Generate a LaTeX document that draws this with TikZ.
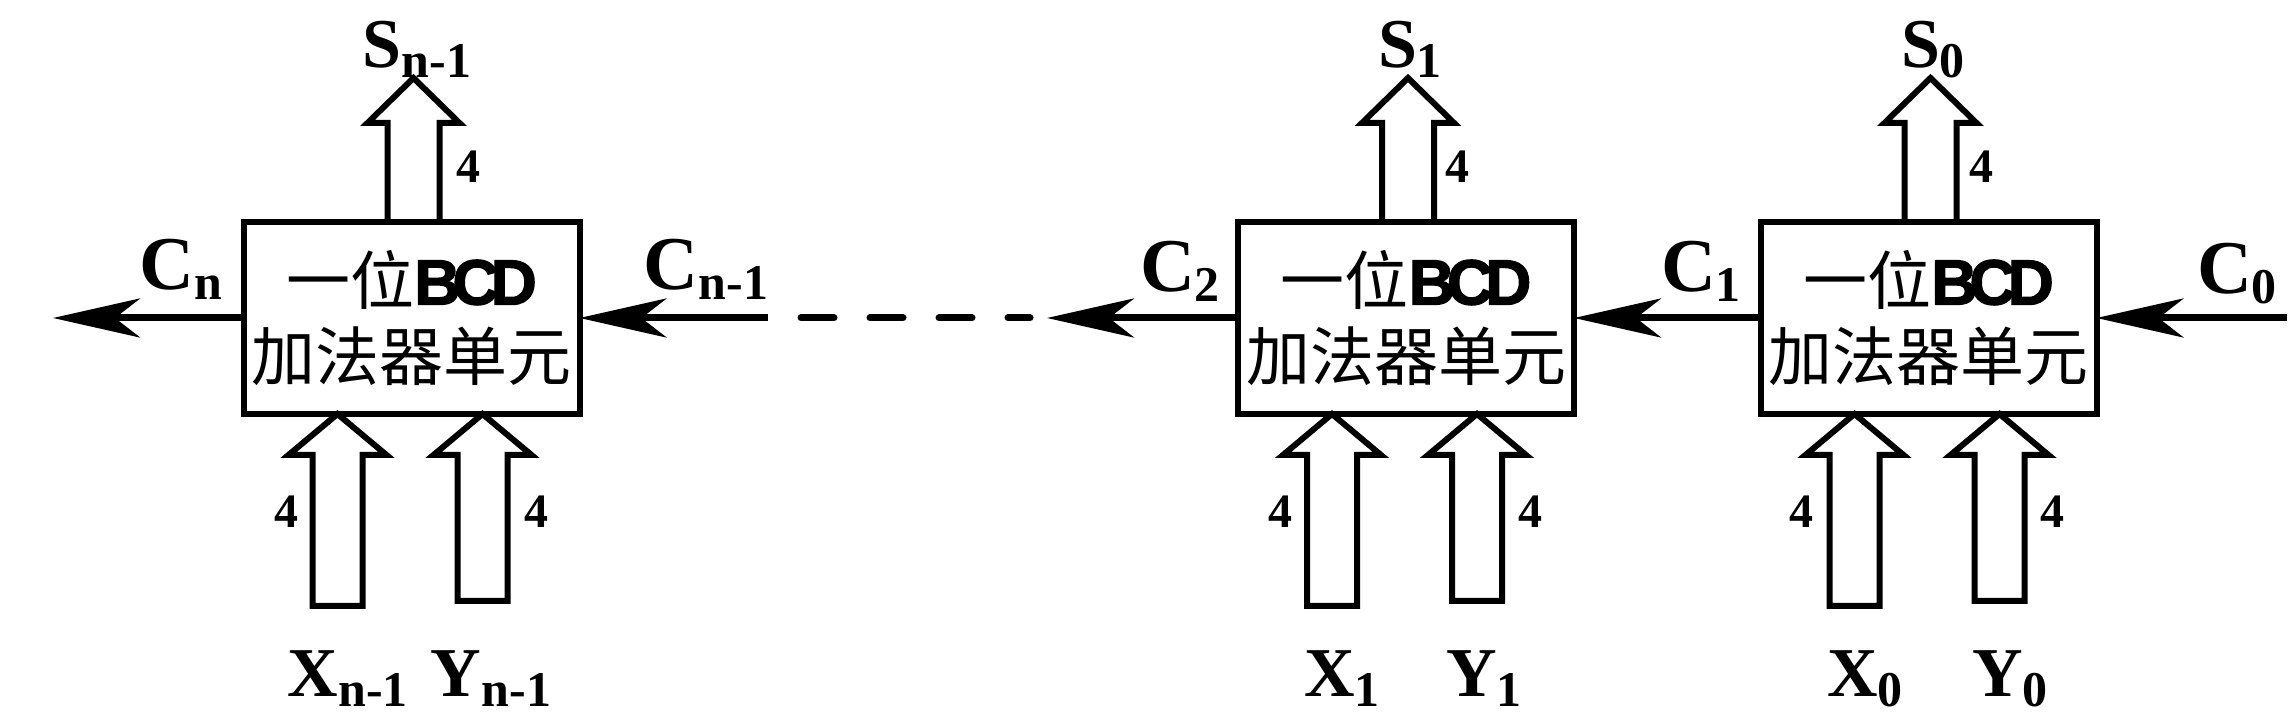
\documentclass[tikz,border=0pt]{standalone}
\usepackage{fontspec}
\setmainfont{Liberation Serif}
\newfontfamily\cjk{Noto Sans CJK SC}
\newfontfamily\bcdfont[FakeBold=2]{Liberation Sans}
\usetikzlibrary{arrows.meta,calc}
\newcommand{\lab}[2]{{\bfseries\fontsize{17.5pt}{20pt}\selectfont #1\raisebox{-2.5pt}{\fontsize{12.5pt}{14pt}\selectfont #2}}}
\newcommand{\clab}[2]{{\bfseries\fontsize{19pt}{22pt}\selectfont C\raisebox{-2.5pt}{\fontsize{12.5pt}{14pt}\selectfont #2}}}
\newcommand{\bcdtxt}{{\bcdfont\bfseries\fontsize{16pt}{19pt}\selectfont B\kern-2pt C\kern-2pt D}}
\newcommand{\inbus}[2]{\draw[bus,shift={(#1)}] (0,0) -- (49,41) -- (25,41) -- (25,#2) -- (-25,#2) -- (-25,41) -- (-49,41) -- cycle;}
\newcommand{\outbus}[1]{\draw[bus,shift={(#1)}] (26,144) -- (26,45) -- (46,45) -- (0,0) -- (-46,45) -- (-26,45) -- (-26,144);}
\tikzset{
  adder/.style={draw, line width=1.5pt, minimum width=84pt, minimum height=48pt, inner sep=0pt, outer sep=0pt, align=center, font=\fontsize{16pt}{19pt}\selectfont},
  carry/.style={line width=1.75pt, -{Stealth[length=21.75pt,width=9.75pt,inset=6.25pt]}},
  bus/.style={line width=1.5pt, line join=miter},
  num/.style={inner sep=0pt, font=\bfseries\fontsize{12pt}{14pt}\selectfont},
  lbl/.style={anchor=base, inner sep=0pt}
}
\begin{document}
\begin{tikzpicture}[x=0.25pt,y=-0.25pt]
\useasboundingbox (0,0) rectangle (2296,714);
% adder boxes
\node[adder] (b1) at (411.5,318) {{\cjk 一位}\bcdtxt\\{\cjk 加法器单元}};
\node[adder] (b2) at (1406,318) {{\cjk 一位}\bcdtxt\\{\cjk 加法器单元}};
\node[adder] (b3) at (1928.5,318) {{\cjk 一位}\bcdtxt\\{\cjk 加法器单元}};
% bus arrows
\foreach \b in {b1,b2,b3}{
  \outbus{$(\b.north west)+(170,-144)$}
  \inbus{$(\b.south west)+(94,0)$}{192}
  \inbus{$(\b.south west)+(239,0)$}{187}
}
% carry connectors
\coordinate (cnend) at (53,318);
\coordinate (cn1start) at (768,318);
\coordinate (dashA) at (801,318);
\coordinate (dashB) at (1030,318);
\coordinate (c2end) at (1047,318);
\coordinate (c0start) at (2287,318);
\draw[carry] (b1.west) -- (cnend);
\draw[carry] (cn1start) -- (b1.east);
\draw[line width=1.75pt, line cap=round, dash pattern=on 8.25pt off 9pt] (dashA) -- (dashB);
\draw[carry] (b2.west) -- (c2end);
\draw[carry] (b3.west) -- (b2.east);
\draw[carry] (c0start) -- (b3.east);
% carry labels
\node[lbl] (lcn) at (181,290) {\clab{C}{n}};
\node[lbl] (lcn1) at (706,290) {\clab{C}{n-1}};
\node[lbl] (lc2) at (1180,292) {\clab{C}{2}};
\node[lbl] (lc1) at (1701,292) {\clab{C}{1}};
\node[lbl] (lc0) at (2237,294) {\clab{C}{0}};
% sum labels
\node[lbl] (ls1) at (417,68) {\lab{S}{n-1}};
\node[lbl] (ls2) at (1410,68) {\lab{S}{1}};
\node[lbl] (ls3) at (1933,68) {\lab{S}{0}};
% input labels
\node[lbl] (lx1) at (348,697) {\lab{X}{n-1}};
\node[lbl] (ly1) at (491,697) {\lab{Y}{n-1}};
\node[lbl] (lx2) at (1342,697) {\lab{X}{1}};
\node[lbl] (ly2) at (1484,697) {\lab{Y}{1}};
\node[lbl] (lx3) at (1865,697) {\lab{X}{0}};
\node[lbl] (ly3) at (2010,697) {\lab{Y}{0}};
% width numbers
\node[num] (n1a) at (468,167) {4};
\node[num] (n1b) at (286,512) {4};
\node[num] (n1c) at (536,512) {4};
\node[num] (n2a) at (1457,167) {4};
\node[num] (n2b) at (1280,512) {4};
\node[num] (n2c) at (1530,512) {4};
\node[num] (n3a) at (1981,167) {4};
\node[num] (n3b) at (1801,512) {4};
\node[num] (n3c) at (2052,512) {4};
\end{tikzpicture}
\end{document}
